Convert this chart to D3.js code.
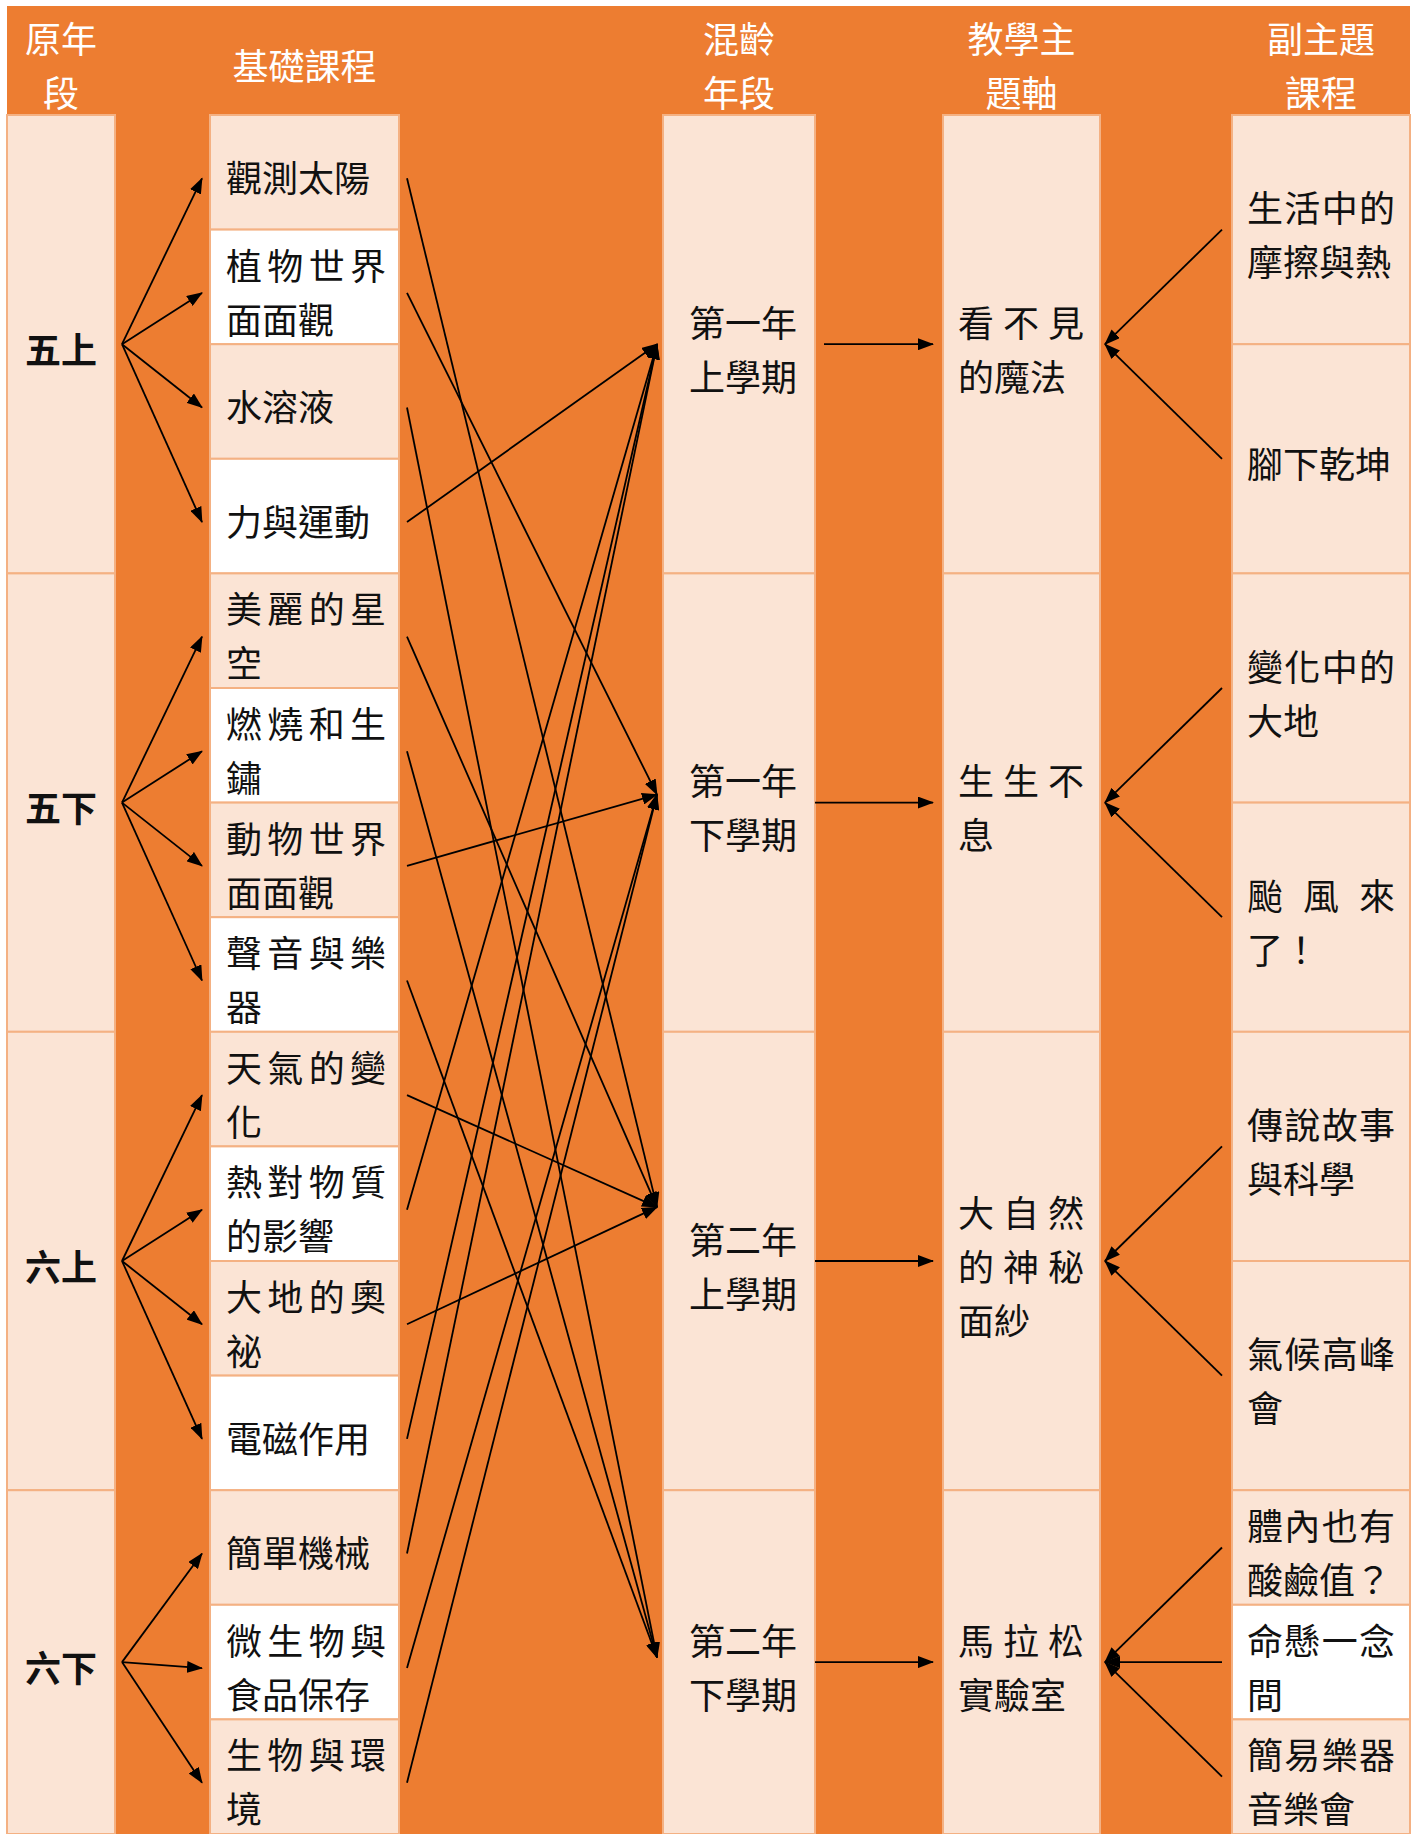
<!DOCTYPE html>
<html>
<head>
<meta charset="utf-8">
<script src="https://cdn.jsdelivr.net/npm/d3@7"></script>
<style>
  body { margin: 0; background: #fff; }
  svg { display: block; }
</style>
</head>
<body>
<div id="chart"></div>
<script>
// column headers
const headers = [["原年", "段"], ["基礎課程"], ["混齡", "年段"], ["教學主", "題軸"], ["副主題", "課程"]];

// original grade groups and how many base courses each holds
const grades = ["五上", "五下", "六上", "六下"];
const gradeRowCounts = [4, 4, 4, 3];

// base courses (one row each), split into the lines they wrap to
const baseCourses = [
  ["觀測太陽"], ["植物世界", "面面觀"], ["水溶液"], ["力與運動"],
  ["美麗的星", "空"], ["燃燒和生", "鏽"], ["動物世界", "面面觀"], ["聲音與樂", "器"],
  ["天氣的變", "化"], ["熱對物質", "的影響"], ["大地的奧", "祕"], ["電磁作用"],
  ["簡單機械"], ["微生物與", "食品保存"], ["生物與環", "境"]
];

// mixed-age semester each base course goes to (index into semesters)
const courseToSemester = [2, 1, 3, 0, 2, 3, 1, 3, 2, 0, 2, 0, 0, 1, 1];

const semesters = [["第一年", "上學期"], ["第一年", "下學期"], ["第二年", "上學期"], ["第二年", "下學期"]];
// where the course arrows meet each semester cell, in row units
const semesterAnchor = [2.0, 5.93, 9.53, 13.46];

const themes = [["看不見", "的魔法"], ["生生不", "息"], ["大自然", "的神秘", "面紗"], ["馬拉松", "實驗室"]];

// sub-theme courses: lines, the theme they feed, and rows they span
const subThemes = [
  ["生活中的", "摩擦與熱"], ["腳下乾坤"],
  ["變化中的", "大地"], ["颱風來", "了！"],
  ["傳說故事", "與科學"], ["氣候高峰", "會"],
  ["體內也有", "酸鹼值？"], ["命懸一念", "間"], ["簡易樂器", "音樂會"]
];
const subThemeGroup = [0, 0, 1, 1, 2, 2, 3, 3, 3];
const subThemeRows = [2, 2, 2, 2, 2, 2, 1, 1, 1];

const width = 1419, height = 1834;
const ORANGE = "#ED7D31", PALE = "#FBE4D5", EDGE = "#F4B183", WHITE = "#FFFFFF";
const FS = 36, LINE_GAP = 54, TEXT_SHIFT = 6;

const cols = {
  grade: [7, 115], course: [210, 399], semester: [663, 815], theme: [943, 1100], sub: [1232, 1410]
};

const svg = d3.select("#chart").append("svg")
  .attr("width", width).attr("height", height)
  .style("font-family", "'Noto Sans CJK TC', 'Noto Sans CJK SC', sans-serif");

const y = d3.scaleLinear().domain([0, 15]).range([115, 1834]);
const headerY = d3.scaleLinear().domain([0, 1]).range([6, 115]);

// group boundaries in row units
const groupStart = d3.cumsum([0, ...gradeRowCounts]).slice(0, -1);
const groupEnd = d3.cumsum(gradeRowCounts);
const groupMid = groupStart.map((s, i) => (s + groupEnd[i]) / 2);

const subStart = d3.cumsum([0, ...subThemeRows]).slice(0, -1);

svg.append("rect").attr("x", 0).attr("y", 0).attr("width", width).attr("height", height).attr("fill", WHITE);
svg.append("rect").attr("x", cols.grade[0]).attr("y", headerY(0))
  .attr("width", cols.sub[1] - cols.grade[0]).attr("height", height - headerY(0)).attr("fill", ORANGE);

const defs = svg.append("defs");
defs.append("marker").attr("id", "head")
  .attr("viewBox", "0 0 16 12").attr("markerUnits", "userSpaceOnUse")
  .attr("markerWidth", 16).attr("markerHeight", 12)
  .attr("refX", 15).attr("refY", 6).attr("orient", "auto")
  .append("path").attr("d", "M0,0 L16,6 L0,12 Z").attr("fill", "#000");

function cell(col, r0, r1, fill) {
  svg.append("rect")
    .attr("x", cols[col][0]).attr("y", y(r0))
    .attr("width", cols[col][1] - cols[col][0]).attr("height", y(r1) - y(r0))
    .attr("fill", fill).attr("stroke", EDGE).attr("stroke-width", 2);
}

// draw wrapped lines; non-last lines are justified to the column text width
function lines(list, x, cy, opt = {}) {
  const n = list.length;
  list.forEach((t, i) => {
    const cyi = cy + TEXT_SHIFT + (i - (n - 1) / 2) * LINE_GAP;
    const txt = svg.append("text")
      .attr("x", x).attr("y", cyi + FS * 0.38)
      .attr("font-size", FS)
      .attr("fill", opt.color || "#111")
      .attr("font-weight", opt.weight || 400)
      .attr("text-anchor", opt.anchor || "start")
      .text(t);
    if (opt.justify && i < n - 1) {
      txt.attr("textLength", opt.justify).attr("lengthAdjust", "spacing");
    }
  });
}

// header row
const colOrder = ["grade", "course", "semester", "theme", "sub"];
headers.forEach((h, i) => {
  const c = cols[colOrder[i]];
  lines(h, (c[0] + c[1]) / 2, headerY(0.5), { color: WHITE, anchor: "middle" });
});

// grade column
grades.forEach((g, i) => {
  cell("grade", groupStart[i], groupEnd[i], PALE);
  lines([g], (cols.grade[0] + cols.grade[1]) / 2, y(groupMid[i]), { anchor: "middle", weight: 700 });
});

// base courses
baseCourses.forEach((c, i) => {
  cell("course", i, i + 1, i % 2 === 0 ? PALE : WHITE);
  lines(c, cols.course[0] + 16, y(i + 0.5), { justify: 160 });
});

// semesters and themes
semesters.forEach((s, i) => {
  cell("semester", groupStart[i], groupEnd[i], PALE);
  lines(s, cols.semester[0] + 26, y(groupMid[i]));
});
themes.forEach((t, i) => {
  cell("theme", groupStart[i], groupEnd[i], PALE);
  lines(t, cols.theme[0] + 15, y(groupMid[i]), { justify: 126 });
});

// sub-theme courses
subThemes.forEach((s, i) => {
  const r0 = subStart[i], r1 = r0 + subThemeRows[i];
  cell("sub", r0, r1, s[0] === "命懸一念" ? WHITE : PALE);
  lines(s, cols.sub[0] + 15, y((r0 + r1) / 2), { justify: 148 });
});

const arrow = (x1, y1, x2, y2) => svg.append("line")
  .attr("x1", x1).attr("y1", y1).attr("x2", x2).attr("y2", y2)
  .attr("stroke", "#000").attr("stroke-width", 1.8)
  .attr("marker-end", "url(#head)");

// grade -> base courses
baseCourses.forEach((c, i) => {
  const g = groupEnd.findIndex(e => i < e);
  arrow(122, y(groupMid[g]), 202, y(i + 0.5) + TEXT_SHIFT);
});

// base courses -> semesters
courseToSemester.forEach((s, i) => {
  arrow(407, y(i + 0.5) + TEXT_SHIFT, 657, y(semesterAnchor[s]));
});

// semesters -> themes
semesters.forEach((s, i) => {
  arrow(i === 0 ? 824 : 815, y(groupMid[i]), 933, y(groupMid[i]));
});

// sub-themes -> themes
subThemes.forEach((s, i) => {
  const r0 = subStart[i];
  arrow(1222, y(r0 + subThemeRows[i] / 2), 1105, y(groupMid[subThemeGroup[i]]));
});
</script>
</body>
</html>
